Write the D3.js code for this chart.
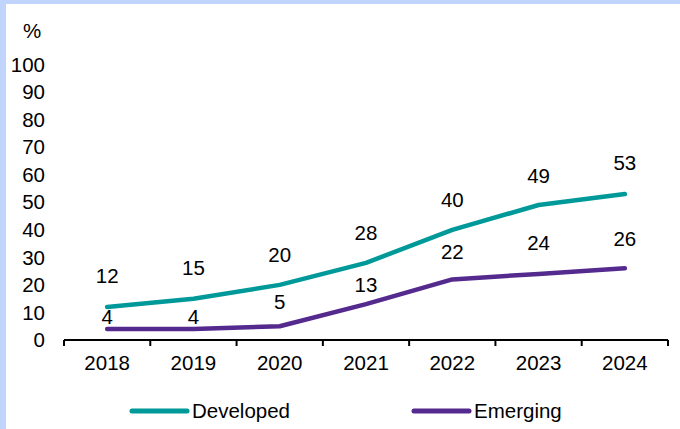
<!DOCTYPE html>
<html>
<head>
<meta charset="utf-8">
<script src="https://cdn.jsdelivr.net/npm/d3@7"></script>
<style>
  html, body { margin: 0; padding: 0; background: #fff; }
  svg { display: block; }
  text { font-family: "Liberation Sans", Arial, sans-serif; fill: #000; }
</style>
</head>
<body>
<svg id="chart" width="680" height="429"></svg>
<script>
// Share of companies, by market group (%)
const years = ["2018", "2019", "2020", "2021", "2022", "2023", "2024"];
const developed = [12, 15, 20, 28, 40, 49, 53];
const emerging = [4, 4, 5, 13, 22, 24, 26];
const yTicks = [0, 10, 20, 30, 40, 50, 60, 70, 80, 90, 100];
const seriesNames = ["Developed", "Emerging"];
const seriesColors = ["#009999", "#552a8f"];
// label lift above each point (px); emerging labels are tucked under the developed line
const developedLabelLift = [31, 31, 30, 30, 30, 29, 31];
const emergingLabelLift = [12, 12, 24, 19, 28, 31, 30];

const FONT = 20.5;
const svg = d3.select("#chart");
const W = 680, H = 429;

// frame band on the left and top edges
svg.append("rect").attr("x", 0).attr("y", 0).attr("width", W).attr("height", H).attr("fill", "#c0d4fc");
svg.append("rect").attr("x", 6).attr("y", 4).attr("width", W - 6).attr("height", H - 4).attr("fill", "#fff");

const x = d3.scaleBand().domain(years).range([64, 668]).padding(0);
const y = d3.scaleLinear().domain([0, 100]).range([340, 64.5]);
const cx = d => x(d) + x.bandwidth() / 2;

// y tick labels (no axis line)
svg.append("g").selectAll("text").data(yTicks).join("text")
  .attr("x", 45).attr("y", d => y(d)).attr("dy", "0.35em")
  .attr("text-anchor", "end").attr("font-size", FONT).text(d => d);

svg.append("text").attr("x", 32).attr("y", 31).attr("dy", "0.35em")
  .attr("text-anchor", "middle").attr("font-size", FONT).text("%");

// x axis with ticks between categories
const xAxis = svg.append("g").attr("transform", "translate(0,340)");
xAxis.append("line").attr("x1", 64).attr("x2", 668).attr("stroke", "#000").attr("stroke-width", 2);
const boundaries = years.map(d => x(d)).concat([x(years[years.length - 1]) + x.bandwidth()]);
xAxis.selectAll("line.tick").data(boundaries).join("line").attr("class", "tick")
  .attr("x1", d => d).attr("x2", d => d).attr("y1", 0).attr("y2", 6)
  .attr("stroke", "#000").attr("stroke-width", 2);
xAxis.selectAll("text").data(years).join("text")
  .attr("x", d => cx(d)).attr("y", 23).attr("dy", "0.35em")
  .attr("text-anchor", "middle").attr("font-size", FONT).text(d => d);

const line = d3.line().x((d, i) => cx(years[i])).y(d => y(d));
const series = [
  { name: seriesNames[0], values: developed, color: seriesColors[0], lift: developedLabelLift },
  { name: seriesNames[1], values: emerging, color: seriesColors[1], lift: emergingLabelLift }
];

series.forEach(s => {
  svg.append("path").datum(s.values).attr("d", line)
    .attr("fill", "none").attr("stroke", s.color).attr("stroke-width", 4.5)
    .attr("stroke-linecap", "round").attr("stroke-linejoin", "round");
  svg.append("g").selectAll("text").data(s.values).join("text")
    .attr("x", (d, i) => cx(years[i])).attr("y", (d, i) => y(d) - s.lift[i])
    .attr("dy", "0.35em").attr("text-anchor", "middle").attr("font-size", FONT)
    .text(d => d);
});

// legend
const legendX = [132, 414];
const legend = svg.append("g").selectAll("g").data(series).join("g")
  .attr("transform", (d, i) => `translate(${legendX[i]},411)`);
legend.append("line").attr("x1", 0).attr("x2", 55).attr("stroke", d => d.color)
  .attr("stroke-width", 5).attr("stroke-linecap", "round");
legend.append("text").attr("x", 60).attr("dy", "0.35em").attr("font-size", FONT).text(d => d.name);
</script>
</body>
</html>
